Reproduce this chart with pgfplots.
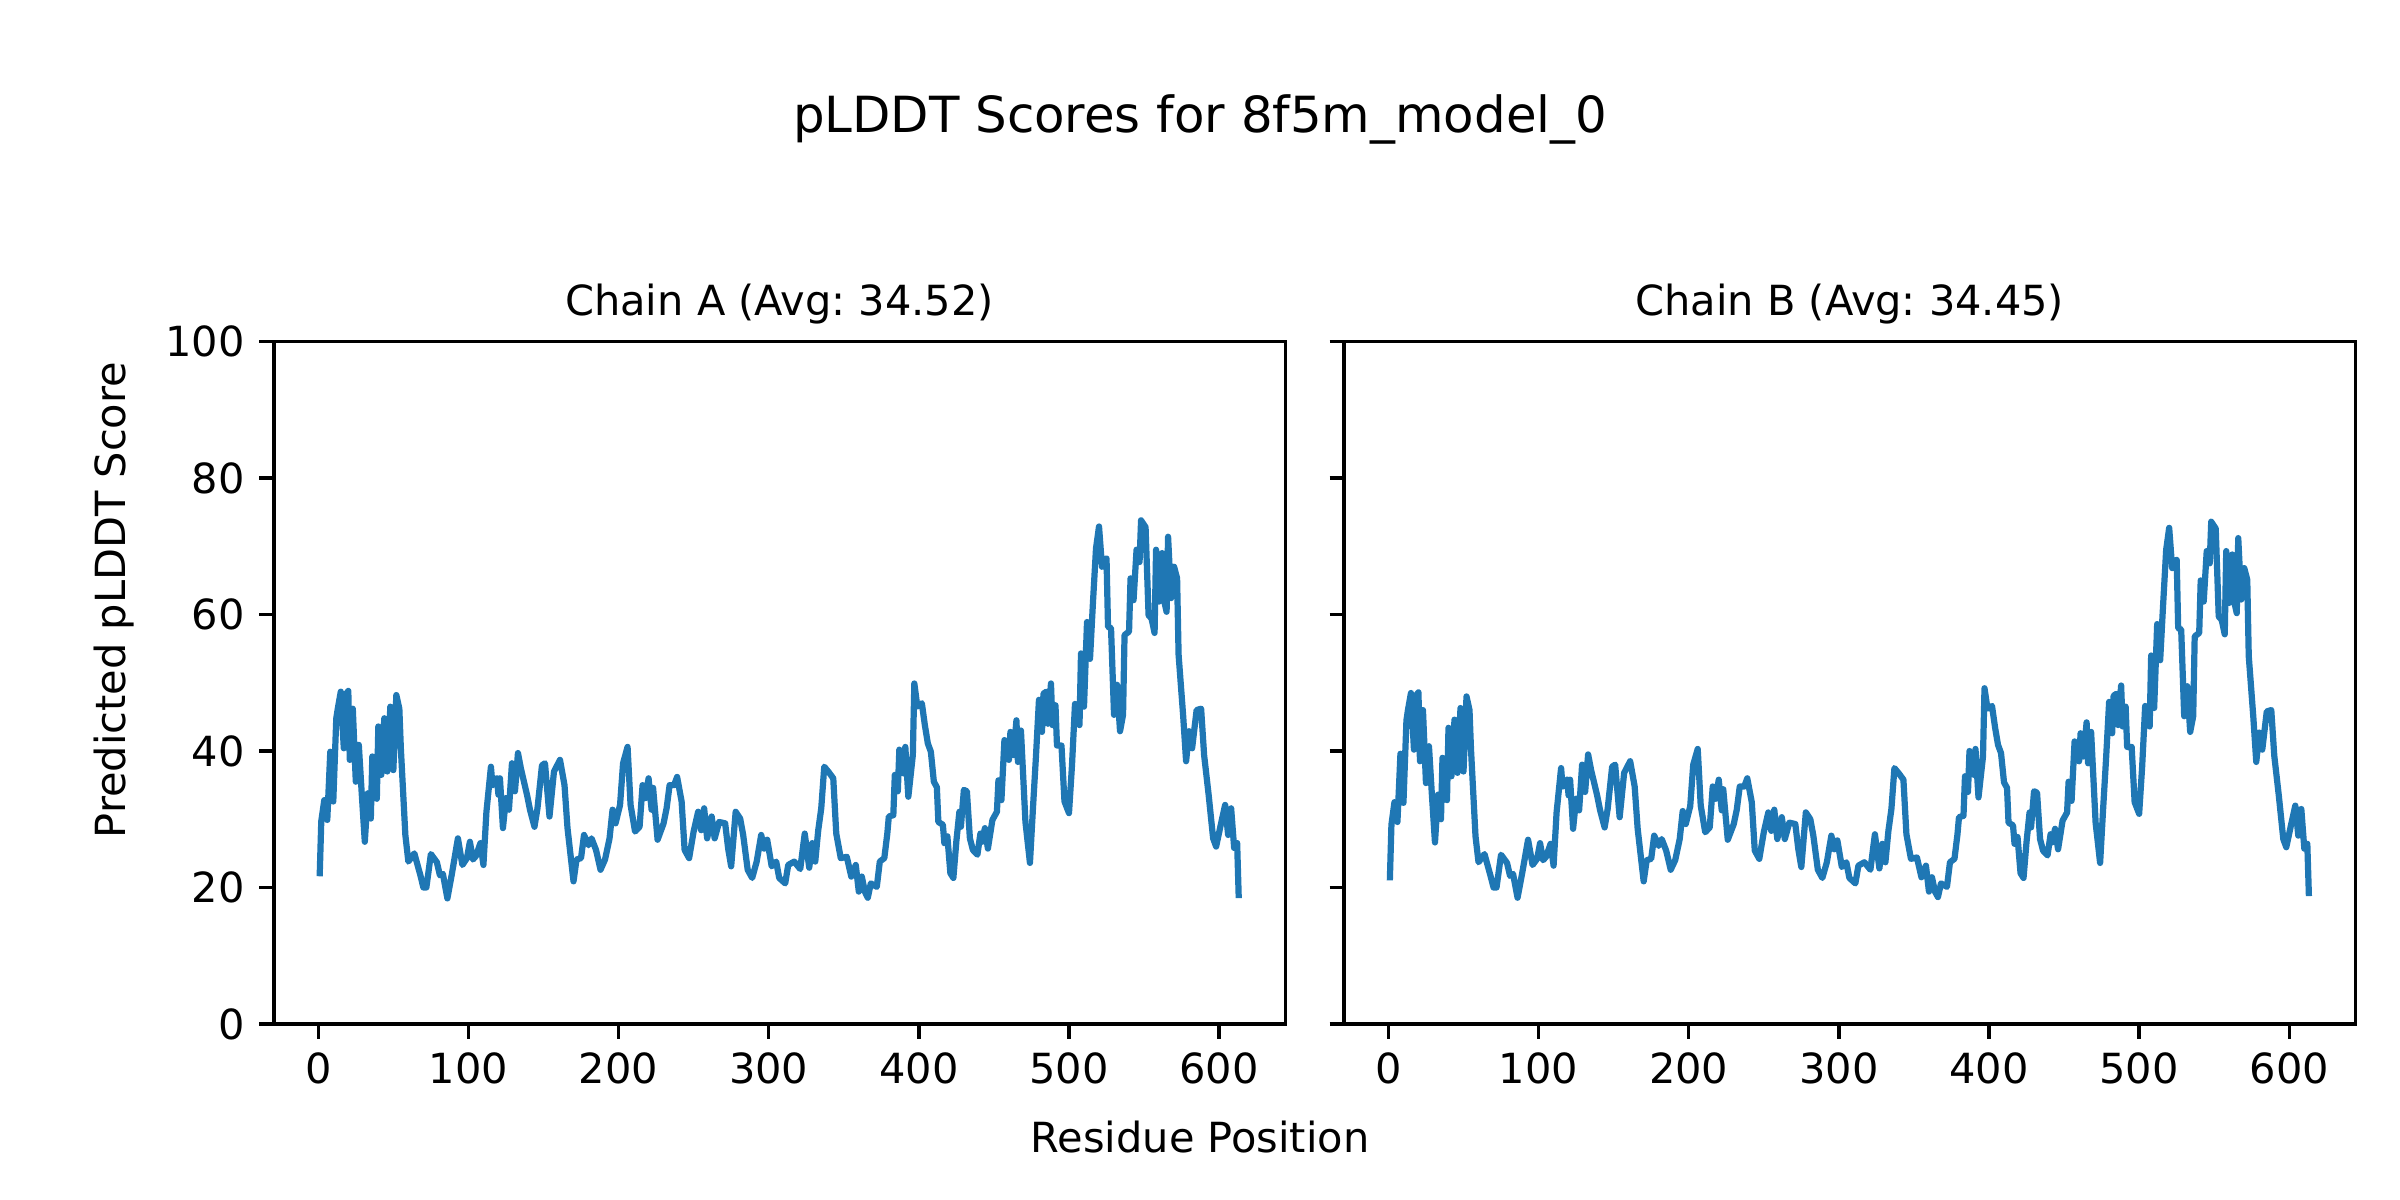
\documentclass[border=0pt]{standalone}
\usepackage{fontspec}
\setmainfont{DejaVu Sans}
\usepackage{pgfplots}
\usepackage{pgfplotstable}
\pgfplotsset{compat=1.18}
\definecolor{mplblue}{HTML}{1F77B4}
\frenchspacing

% chain A
\pgfplotstableread{
r v
1 22.1
2 29.7
4 32.8
6 29.9
8 39.9
10 32.6
12 44.8
13 46.2
15 48.7
17 40.4
18 48.2
20 48.8
21 38.7
23 46.2
25 35.5
27 40.9
29 33.6
31 26.7
33 33.8
35 30.1
36 39.2
39 33
40 43.6
42 36.5
44 44.8
46 37
48 46.5
50 37.2
52 48.2
54 46.2
55 40.4
58 27.7
60 23.8
64 25
68 21.8
70 20
72 20
75 24.9
79 23.7
81 21.8
83 22
86 18.4
89 22
93 27.2
96 23.3
99 24.3
101 26.7
103 24.1
105 24.6
108 26.5
110 23.3
112 31.1
115 37.7
116 35
119 36
120 33.6
121 36
123 28.7
125 33.1
127 31.4
129 38.2
131 34.1
133 39.7
135 37.4
139 33.6
141 31.4
144 28.9
146 31.6
149 37.9
151 38.2
154 30.4
157 37
161 38.7
164 35
166 28.7
170 20.9
172 24.1
175 24.3
177 27.7
180 26.2
182 27.2
185 25.5
188 22.6
191 24.1
194 27.2
196 31.4
198 29.4
201 32.1
203 38.2
206 40.6
208 32.1
211 28.2
214 28.9
216 35
218 33.1
220 36
222 31.4
223 34.6
226 27
230 29.4
232 31.6
234 35
237 35
239 36.2
242 32.6
244 25.5
247 24.3
250 28.2
253 31.1
255 28.4
257 31.6
259 27.2
262 30.4
264 27.2
267 29.6
271 29.4
273 25.7
275 23.1
278 31.1
281 30.1
283 27.7
286 22.6
289 21.4
292 23.8
295 27.7
297 25.7
299 27
302 23.1
305 23.8
307 21.4
311 20.6
313 23.3
317 23.8
321 22.7
324 27.9
327 22.9
329 26.5
331 23.8
333 28.4
335 31.6
337 37.7
340 36.9
343 36
345 27.9
348 24.3
352 24.5
355 21.6
358 23.3
360 19.4
362 21.6
364 19.4
366 18.5
368 20.6
372 20.1
374 23.8
377 24.3
379 27.9
380 30.4
383 30.6
384 36.5
386 34.1
387 40.2
390 36.7
391 40.6
393 33.3
396 39.4
397 49.9
399 46.5
402 47
404 43.8
406 41.1
408 39.9
410 35.5
412 34.7
413 29.6
416 29.2
417 26.5
419 27.5
421 22.1
423 21.4
425 26.8
427 31.1
428 28.9
430 34.3
432 34.1
434 27.2
436 25.5
439 24.8
441 27.9
442 26.7
444 28.7
446 25.7
449 29.9
452 31.1
453 35.7
455 32.8
457 41.6
460 38.7
461 42.8
463 39.4
465 44.5
466 38.4
468 43
471 29.6
474 23.6
476 31.6
478 39.2
480 47.5
482 42.8
483 48.4
485 48.7
486 44
488 49.9
489 43.8
491 46.7
492 40.8
495 40.8
497 32.6
500 30.9
502 37.9
504 46.9
507 43.8
508 54.3
510 46.5
512 58.9
514 53.5
516 61.9
518 69.7
520 72.9
522 67
525 68.2
526 58.2
528 58
530 45.3
532 49.7
534 42.9
536 45.3
537 57
540 57.5
541 65.3
543 62.1
545 69.5
547 67.7
548 73.8
551 72.8
553 59.9
555 59.4
557 57.3
558 69.5
560 61.9
562 69
563 62.4
565 60.4
566 71.4
568 62.4
570 67
572 65.3
573 54.1
576 45.3
578 38.5
580 42.9
582 40.4
585 46
588 46.2
590 39.4
593 33.6
596 27.2
598 26
601 29.1
604 32.1
606 27.7
608 31.6
610 25.8
612 26.5
613 18.9
}\chainA

% chain B, almost the same as A
\pgfplotstableread{
r v
1 21.5
2 29.2
4 32.5
6 29.6
8 39.6
10 32.4
12 44.5
13 46.0
15 48.5
17 40.2
18 48.0
20 48.6
21 38.5
23 46.0
25 35.3
27 40.7
29 33.4
31 26.6
33 33.6
35 30.0
36 39.0
39 32.8
40 43.4
42 36.3
44 44.6
46 36.8
48 46.3
50 37.0
52 48.0
54 46.0
55 40.2
58 27.5
60 23.7
64 24.9
68 21.7
70 20
72 20
75 24.8
79 23.6
81 21.7
83 22
86 18.5
89 22
93 27.0
96 23.3
99 24.2
101 26.5
103 24.0
105 24.5
108 26.4
110 23.2
112 31.0
115 37.5
116 34.8
119 35.8
120 33.5
121 35.8
123 28.6
125 33.0
127 31.3
129 38.0
131 34.0
133 39.5
135 37.2
139 33.5
141 31.3
144 28.8
146 31.5
149 37.7
151 38.0
154 30.3
157 36.8
161 38.5
164 34.8
166 28.6
170 20.9
172 24.0
175 24.2
177 27.6
180 26.1
182 27.1
185 25.4
188 22.6
191 24.0
194 27.1
196 31.2
198 29.3
201 31.9
203 38.0
206 40.3
208 32.0
211 28.1
214 28.8
216 34.8
218 33.0
220 35.8
222 31.3
223 34.4
226 27
230 29.3
232 31.4
234 34.8
237 34.8
239 36.0
242 32.5
244 25.4
247 24.2
250 28.1
253 31.0
255 28.3
257 31.4
259 27.1
262 30.3
264 27.1
267 29.5
271 29.3
273 25.6
275 23.0
278 31.0
281 30.0
283 27.6
286 22.6
289 21.4
292 23.7
295 27.6
297 25.6
299 26.9
302 23.0
305 23.7
307 21.4
311 20.6
313 23.2
317 23.7
321 22.6
324 27.8
327 22.8
329 26.4
331 23.7
333 28.3
335 31.5
337 37.5
340 36.7
343 35.8
345 27.8
348 24.2
352 24.4
355 21.5
358 23.2
360 19.4
362 21.5
364 19.4
366 18.6
368 20.6
372 20.1
374 23.7
377 24.2
379 27.8
380 30.3
383 30.5
384 36.3
386 34.0
387 40.0
390 36.5
391 40.3
393 33.2
396 39.2
397 49.2
399 46.2
402 46.6
404 43.5
406 40.9
408 39.7
410 35.4
412 34.6
413 29.5
416 29.1
417 26.4
419 27.4
421 22.1
423 21.4
425 26.7
427 31.0
428 28.8
430 34.1
432 33.9
434 27.1
436 25.4
439 24.7
441 27.8
442 26.6
444 28.6
446 25.6
449 29.8
452 31.0
453 35.5
455 32.7
457 41.4
460 38.5
461 42.6
463 39.2
465 44.2
466 38.2
468 42.8
471 29.5
474 23.6
476 31.5
478 39.0
480 47.2
482 42.6
483 48.1
485 48.4
486 43.8
488 49.6
489 43.6
491 46.5
492 40.6
495 40.6
497 32.5
500 30.8
502 37.7
504 46.6
507 43.6
508 54.0
510 46.3
512 58.6
514 53.3
516 61.6
518 69.5
520 72.7
522 66.8
525 68.0
526 58.0
528 57.8
530 45.1
532 49.5
534 42.8
536 45.1
537 56.8
540 57.3
541 65.0
543 61.9
545 69.3
547 67.5
548 73.6
551 72.6
553 59.7
555 59.2
557 57.1
558 69.3
560 61.7
562 68.8
563 62.2
565 60.2
566 71.2
568 62.2
570 66.8
572 65.1
573 53.9
576 45.1
578 38.4
580 42.7
582 40.2
585 45.8
588 46.0
590 39.3
593 33.5
596 27.1
598 25.9
601 29.0
604 32.0
606 27.6
608 31.5
610 25.7
612 26.4
613 19.2
}\chainB

\pgfplotsset{
  chainax/.style={
    width=243.6pt, height=164.4pt, scale only axis,
    anchor=south west,
    xmin=-29.5, xmax=644, ymin=0, ymax=100,
    xtick={0,100,...,600}, ytick={0,20,...,100},
    xtick pos=bottom, ytick pos=left,
    tick align=outside, major tick length=3.5pt,
    every tick/.style={black, line width=0.8pt},
    axis line style={black, line width=0.8pt},
    tick label style={font=\fontsize{10}{12}\selectfont},
    /pgf/number format/assume math mode=true,
    title style={font=\fontsize{10}{12}\selectfont, at={(0.5,1)}, anchor=base, yshift=0.3pt},
  },
}

\begin{document}
\begin{tikzpicture}
\path[use as bounding box] (0,0) rectangle (578.16pt,289.08pt);

\begin{axis}[chainax, at={(66pt,42.4pt)}, title={Chain A (Avg: 34.52)}]
\addplot[mplblue, line width=1.5pt, line join=round, line cap=rect, no markers] table[x=r, y=v] {\chainA};
\end{axis}

\begin{axis}[chainax, at={(323.8pt,42.4pt)}, yticklabels={}, title={Chain B (Avg: 34.45)}]
\addplot[mplblue, line width=1.5pt, line join=round, line cap=rect, no markers] table[x=r, y=v] {\chainB};
\end{axis}

\node[font=\fontsize{12}{14}\selectfont] at (289.1pt,260.3pt) {pLDDT Scores for 8f5m\_model\_0};
\node[font=\fontsize{10}{12}\selectfont] at (289.1pt,15.2pt) {Residue Position};
\node[font=\fontsize{10}{12}\selectfont, rotate=90] at (27.5pt,144.5pt) {Predicted pLDDT Score};
\end{tikzpicture}
\end{document}
